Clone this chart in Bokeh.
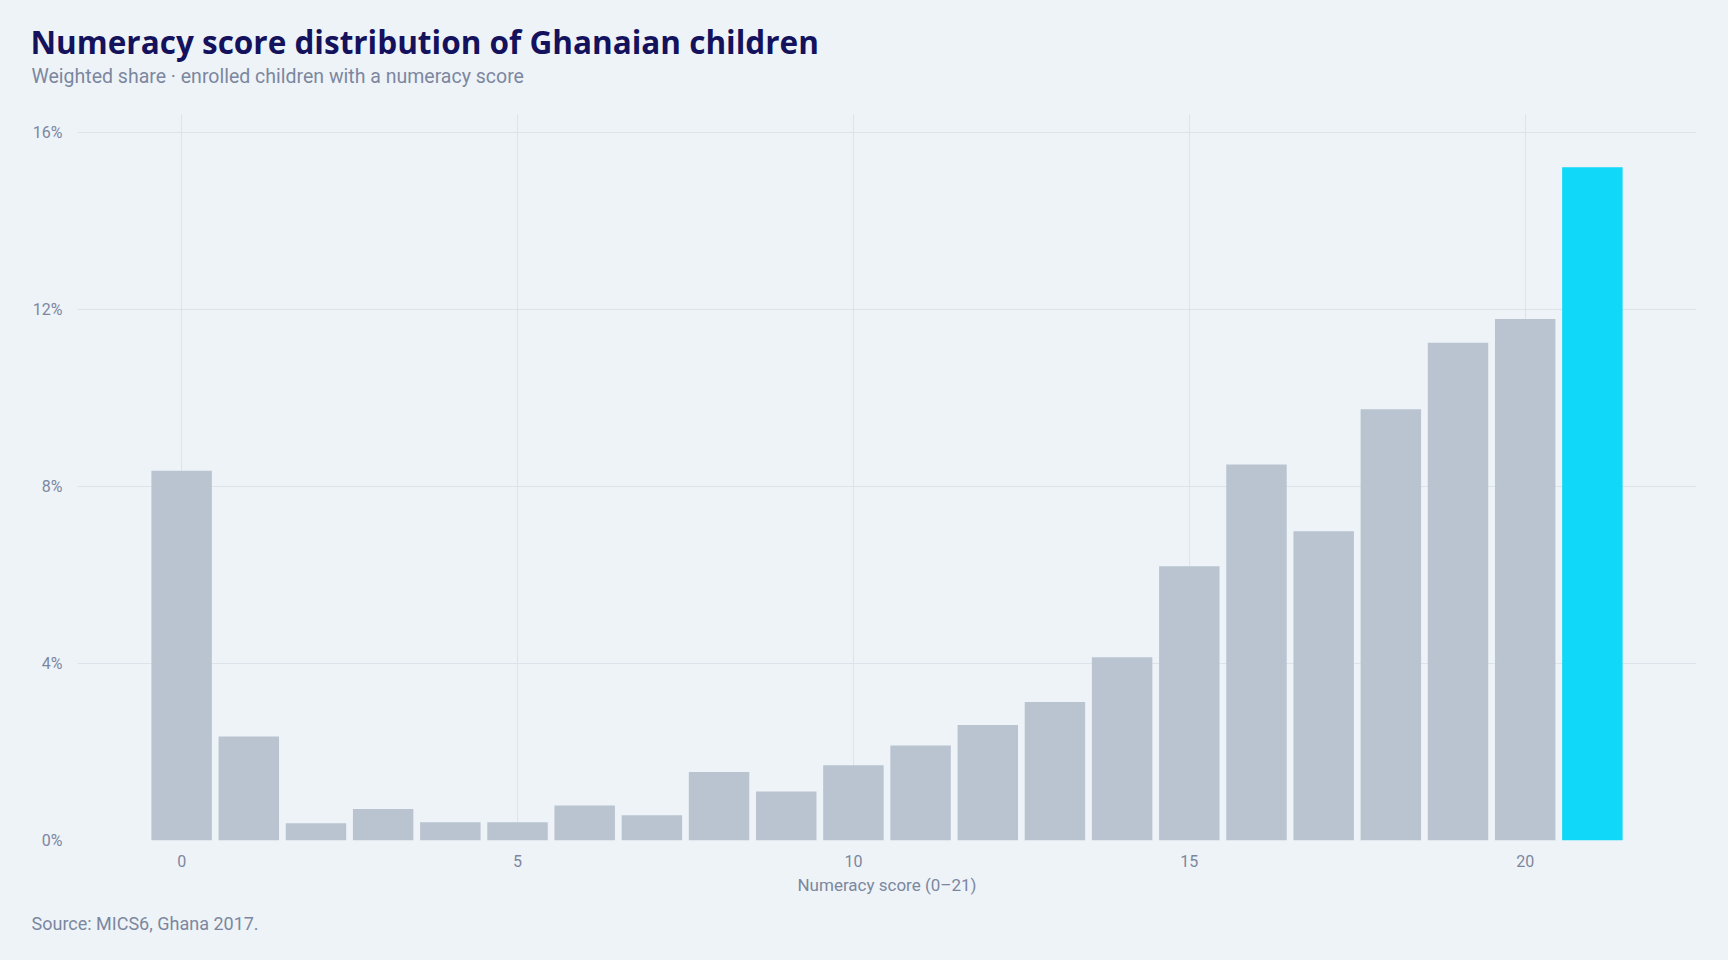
from bokeh.plotting import figure
from bokeh.models import ColumnDataSource, Range1d, FixedTicker, PrintfTickFormatter, Title
from bokeh.embed import file_html
from bokeh.resources import INLINE

# ---- data ----
scores = list(range(22))
shares = [8.36, 2.35, 0.39, 0.71, 0.41, 0.41, 0.79, 0.57, 1.55, 1.11, 1.70,
          2.15, 2.61, 3.13, 4.14, 6.20, 8.50, 6.99, 9.75, 11.25, 11.79, 15.22]
x_ticks = [0, 5, 10, 15, 20]
y_ticks = [0, 4, 8, 12, 16]
highlight_score = 21

title_text = "Numeracy score distribution of Ghanaian children"
subtitle_text = "Weighted share \u00b7 enrolled children with a numeracy score"
source_text = "Source: MICS6, Ghana 2017."
x_label = "Numeracy score (0\u201321)"

BG = "#eef3f8"
GRAY = "#b9c4d0"
CYAN = "#0fd8f9"
GRID = "#dde3ea"
MUTED = "#7c879f"
NAVY = "#14125c"
FONT = "Roboto"

colors = [CYAN if s == highlight_score else GRAY for s in scores]
src = ColumnDataSource(dict(x=scores, top=shares, color=colors))

p = figure(width=1712, height=952, output_backend="svg", toolbar_location=None,
           x_range=Range1d(-1.55, 22.55), y_range=Range1d(0, 16.41),
           min_border_left=77, min_border_right=16, min_border_top=114,
           min_border_bottom=112)

p.background_fill_color = BG
p.border_fill_color = BG
p.outline_line_color = None

p.vbar(x="x", top="top", bottom=0, width=0.9, color="color", line_color=None, source=src)

# axes
p.xaxis.ticker = FixedTicker(ticks=x_ticks)
p.yaxis.ticker = FixedTicker(ticks=y_ticks)
p.yaxis.formatter = PrintfTickFormatter(format="%d%%")
for ax in (p.xaxis[0], p.yaxis[0]):
    ax.axis_line_color = None
    ax.major_tick_line_color = None
    ax.minor_tick_line_color = None
    ax.major_label_text_font = FONT
    ax.major_label_text_font_size = "16px"
    ax.major_label_text_color = MUTED
p.yaxis.major_label_standoff = 9
p.xaxis.major_label_standoff = 8
p.xaxis.axis_label = x_label
p.xaxis.axis_label_text_font = FONT
p.xaxis.axis_label_text_font_size = "17px"
p.xaxis.axis_label_text_font_style = "normal"
p.xaxis.axis_label_text_color = MUTED
p.xaxis.axis_label_standoff = 5

p.xgrid.grid_line_color = GRID
p.ygrid.grid_line_color = GRID
p.xgrid.grid_line_width = 1
p.ygrid.grid_line_width = 1

# titles (first added sits closest to the frame)
p.add_layout(Title(text=subtitle_text, align="left", offset=-46, standoff=54,
                   text_font=FONT, text_font_size="19.5px", text_font_style="normal",
                   text_color=MUTED), "above")
p.add_layout(Title(text=title_text, align="left", offset=-47, standoff=-55,
                   text_font="Open Sans", text_font_size="31.5px", text_font_style="bold",
                   text_color=NAVY), "above")
p.add_layout(Title(text=source_text, align="left", offset=-46, standoff=27,
                   text_font=FONT, text_font_size="18px", text_font_style="normal",
                   text_color=MUTED), "below")

html = file_html(p, INLINE, title="Numeracy score distribution")
html = html.replace("</head>", "<style>html,body{background:%s;}</style></head>" % BG, 1)
open("out.html", "w").write(html)
